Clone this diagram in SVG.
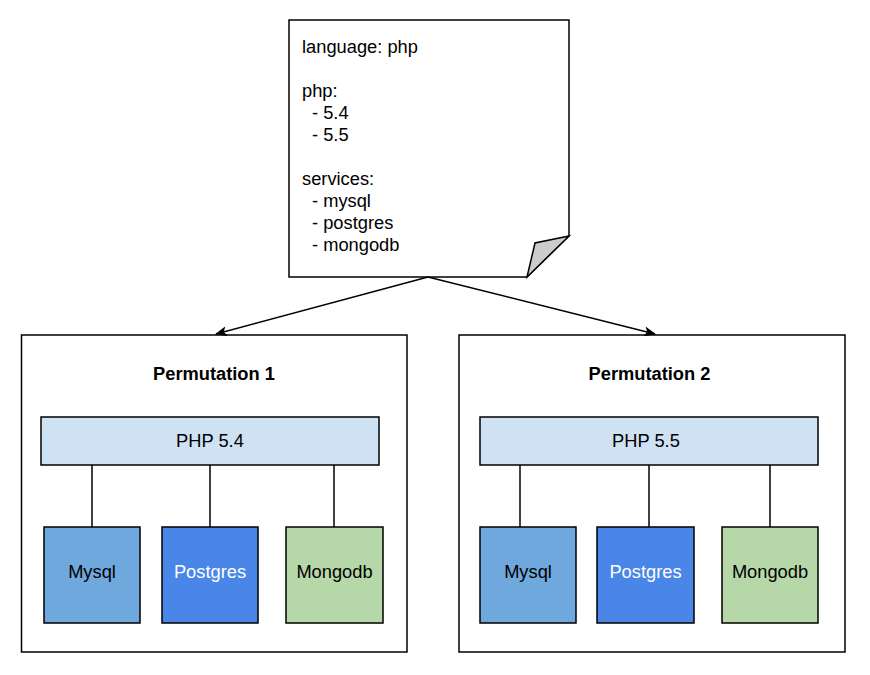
<svg xmlns="http://www.w3.org/2000/svg" width="870" height="675" viewBox="0 0 870 675">
<defs>
<style>
text{font-family:"Liberation Sans",Arial,sans-serif;font-size:18.3px;fill:#000}
.b{stroke:#000;stroke-width:1.5}
.c{text-anchor:middle}
.bold{font-weight:bold}
.w{fill:#fff}
.ln{stroke:#000;stroke-width:1.5;fill:none}
.php{fill:#cfe2f3}
.my{fill:#6fa8dc}
.pg{fill:#4a86e8}
.mg{fill:#b6d7a8}
</style>
<marker id="ah" markerWidth="12" markerHeight="10" refX="11" refY="5" orient="auto" markerUnits="userSpaceOnUse">
<path d="M0,0 L12,5 L0,10 L3,5 Z" fill="#000"/>
</marker>
</defs>
<rect width="870" height="675" fill="#fff"/>
<g id="note">
<path class="b" d="M289,20 H569 V236 L527,277 H289 Z" fill="#fff"/>
<path class="b" d="M569,236 L535,243 L527,277 Z" fill="#cccccc"/>
<text x="302" y="53">language: php</text>
<text x="302" y="97">php:</text>
<text x="312" y="119">- 5.4</text>
<text x="312" y="141">- 5.5</text>
<text x="302" y="185">services:</text>
<text x="312" y="207">- mysql</text>
<text x="312" y="229">- postgres</text>
<text x="312" y="251">- mongodb</text>
</g>
<g id="perm1">
<rect class="b" x="21.5" y="335" width="385.5" height="317" fill="#fff"/>
<text class="c bold" x="214" y="380">Permutation 1</text>
</g>
<g id="perm2">
<rect class="b" x="459" y="335" width="386" height="317" fill="#fff"/>
<text class="c bold" x="649.5" y="380">Permutation 2</text>
</g>
<g id="connectors">
<line class="ln" x1="428" y1="277" x2="216" y2="334" marker-end="url(#ah)"/>
<line class="ln" x1="428" y1="277" x2="655" y2="334" marker-end="url(#ah)"/>
<line class="ln" x1="92" y1="465" x2="92" y2="527"/>
<line class="ln" x1="210" y1="465" x2="210" y2="527"/>
<line class="ln" x1="334" y1="465" x2="334" y2="527"/>
<line class="ln" x1="520" y1="465" x2="520" y2="527"/>
<line class="ln" x1="649" y1="465" x2="649" y2="527"/>
<line class="ln" x1="770" y1="465" x2="770" y2="527"/>
</g>
<g id="php54">
<rect class="b php" x="41" y="417" width="338" height="48"/>
<text class="c" x="210" y="447">PHP 5.4</text>
</g>
<g id="mysql1">
<rect class="b my" x="44" y="527" width="96" height="96"/>
<text class="c" x="92" y="578">Mysql</text>
</g>
<g id="postgres1">
<rect class="b pg" x="162" y="527" width="96" height="96"/>
<text class="c w" x="210" y="578">Postgres</text>
</g>
<g id="mongodb1">
<rect class="b mg" x="286" y="527" width="97" height="96"/>
<text class="c" x="334.5" y="578">Mongodb</text>
</g>
<g id="php55">
<rect class="b php" x="480" y="417" width="338" height="48"/>
<text class="c" x="646" y="447">PHP 5.5</text>
</g>
<g id="mysql2">
<rect class="b my" x="480" y="527" width="96" height="96"/>
<text class="c" x="528" y="578">Mysql</text>
</g>
<g id="postgres2">
<rect class="b pg" x="597" y="527" width="97" height="96"/>
<text class="c w" x="645.5" y="578">Postgres</text>
</g>
<g id="mongodb2">
<rect class="b mg" x="722" y="527" width="96" height="96"/>
<text class="c" x="770" y="578">Mongodb</text>
</g>
</svg>
